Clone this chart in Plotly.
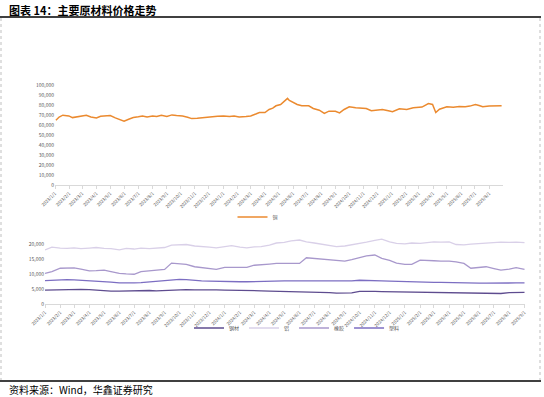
import plotly.graph_objects as go

W, H = 544, 397

# ---------------- data ----------------
copper_dates = [
    "2023-01-03", "2023-01-10", "2023-01-18", "2023-01-31", "2023-02-08", "2023-02-20",
    "2023-03-01", "2023-03-10", "2023-03-20", "2023-04-01", "2023-04-10", "2023-04-20",
    "2023-05-01", "2023-05-12", "2023-05-22", "2023-05-31", "2023-06-10", "2023-06-20",
    "2023-07-01", "2023-07-10", "2023-07-20", "2023-08-01", "2023-08-10", "2023-08-20",
    "2023-09-01", "2023-09-12", "2023-09-22", "2023-10-05", "2023-10-16", "2023-10-25",
    "2023-11-06", "2023-11-16", "2023-11-28", "2023-12-08", "2023-12-20", "2024-01-02",
    "2024-01-15", "2024-01-25", "2024-02-05", "2024-02-20", "2024-03-01", "2024-03-12",
    "2024-03-20", "2024-04-01", "2024-04-10", "2024-04-18", "2024-04-25", "2024-05-05",
    "2024-05-12", "2024-05-20", "2024-05-24", "2024-06-01", "2024-06-10", "2024-06-20",
    "2024-07-05", "2024-07-15", "2024-07-28", "2024-08-08", "2024-08-18", "2024-09-01",
    "2024-09-10", "2024-09-20", "2024-10-01", "2024-10-15", "2024-10-28", "2024-11-07",
    "2024-11-18", "2024-12-01", "2024-12-12", "2024-12-25", "2025-01-03", "2025-01-18",
    "2025-02-03", "2025-02-17", "2025-03-08", "2025-03-22", "2025-03-31", "2025-04-07",
    "2025-04-15", "2025-05-01", "2025-05-15", "2025-05-28", "2025-06-10", "2025-06-20",
    "2025-07-02", "2025-07-10", "2025-07-18", "2025-08-01", "2025-08-15", "2025-08-28",
]
copper = [
    64800, 68000, 69800, 69100, 67400, 68600,
    69100, 69800, 68100, 67100, 68800, 69300,
    69500, 67100, 65400, 63800, 65800, 67400,
    68200, 69100, 68100, 69100, 68500, 69800,
    68600, 70100, 69500, 69000, 67800, 66400,
    66800, 67400, 68200, 68500, 68800, 69100,
    68500, 68900, 68100, 68500, 69100, 71000,
    72500, 72500, 75500, 76800, 79200, 80500,
    83200, 86600, 84500, 82600, 80500, 79200,
    79200, 76500, 74800, 71500, 73800, 73800,
    72100, 75500, 78200, 77200, 76800, 76500,
    74200, 74600, 75500, 74300, 73200, 76200,
    75500, 77200, 77900, 81500, 80500, 72500,
    75800, 78200, 77800, 78500, 78300, 78900,
    80500, 79500, 78200, 78900, 79000, 79200,
]

# semi-monthly dates (1st and 15th) Jan 2023 .. Sep 2025
bottom_dates = []
for yr in (2023, 2024, 2025):
    for mo in range(1, 13):
        for d in (1, 15):
            if yr == 2025 and (mo > 9 or (mo == 9 and d == 15)):
                continue
            bottom_dates.append(f"{yr}-{mo:02d}-{d:02d}")

steel = [
    4600, 4700, 4700, 4800, 4900, 4900, 4800, 4600, 4400, 4300, 4300, 4400,
    4500, 4500, 4500, 4400, 4500, 4600, 4800, 4800, 4700, 4750, 4750, 4700,
    4650, 4650, 4600, 4600, 4500, 4400, 4300, 4250, 4300, 4300, 4250, 4200,
    4100, 4000, 3800, 3600, 3550, 3700, 4200, 4300, 4200, 4150, 4100, 4050,
    4000, 4000, 4050, 4050, 4000, 3950, 3900, 3800, 3700, 3650, 3550, 3450,
    3400, 3500, 3800, 3900, 3850,
]
aluminium = [
    18000, 18900, 18600, 18500, 18700, 18400, 18600, 18800, 18500, 18400, 18000, 18500,
    18300, 18600, 18400, 18500, 18800, 19600, 19700, 19800, 19300, 19000, 18900, 18700,
    19200, 19400, 18900, 18700, 19000, 19100, 19600, 20300, 20500, 21000, 21300, 20700,
    20300, 19900, 19400, 19100, 19300, 19700, 20000, 20600, 21200, 21600, 20700, 20200,
    20000, 20300, 20200, 20500, 20700, 20600, 20700, 19800, 19700, 19900, 20100, 20300,
    20400, 20600, 20500, 20600, 20400,
]
rubber = [
    10200, 10800, 11900, 11900, 12000, 11600, 11000, 11100, 11300, 10800, 10200, 10000,
    9900, 10800, 11000, 11300, 11500, 13600, 13400, 13200, 12400, 12100, 11900, 11500,
    12200, 12200, 12100, 12200, 12900, 13000, 13300, 13500, 13550, 13550, 13500, 15400,
    15200, 14900, 14650, 14650, 14300, 14800, 15500, 16000, 16300, 15200, 14500, 13600,
    13200, 13200, 14600, 14600, 14400, 14300, 14300, 14000, 13500, 11900, 12100, 12400,
    11800, 11300, 11600, 12100, 11500,
]
plastic = [
    7800, 7900, 8200, 8100, 8000, 7900, 7700, 7700, 7500, 7300, 7000, 6900,
    7000, 7100, 7300, 7400, 7600, 7900, 8200, 8100, 7800, 7700, 7600, 7500,
    7400, 7400, 7400, 7400, 7500, 7500, 7500, 7600, 7700, 7700, 7700, 7700,
    7700, 7700, 7600, 7600, 7600, 7700, 7900, 7900, 7800, 7700, 7600, 7500,
    7400, 7300, 7200, 7200, 7200, 7200, 7100, 7000, 7000, 7000, 6950, 6950,
    6900, 6900, 7000, 7000, 7000,
]

top_tick_dates = [f"{y}-{m:02d}-01" for y in (2023, 2024, 2025) for m in range(1, 13)
                  if not (y == 2025 and m > 8)]
top_tick_text = [f"{int(d[:4])}/{int(d[5:7])}/1" for d in top_tick_dates]
bot_tick_dates = [f"{y}-{m:02d}-01" for y in (2023, 2024, 2025) for m in range(1, 13)
                  if not (y == 2025 and m > 9)]
bot_tick_text = [f"{int(d[:4])}/{int(d[5:7])}/1" for d in bot_tick_dates]

top_yticks = [0, 10000, 20000, 30000, 40000, 50000, 60000, 70000, 80000, 90000, 100000]
bot_yticks = [0, 5000, 10000, 15000, 20000]

# ---------------- figure ----------------
FONT = "Noto Sans CJK SC"
TICK = dict(family=FONT, size=5, color="#595959")
XTICK = dict(family=FONT, size=4.5, color="#595959")

fig = go.Figure()
fig.add_trace(go.Scatter(x=copper_dates, y=copper, mode="lines", name="铜",
                         line=dict(color="#EB8A2F", width=1.5),
                         xaxis="x", yaxis="y", legend="legend"))
series = [("钢材", steel, "#5E4C8F"), ("铝", aluminium, "#D9D0E8"),
          ("橡胶", rubber, "#A898CC"), ("塑料", plastic, "#7C6EC2")]
for name, vals, col in series:
    fig.add_trace(go.Scatter(x=bottom_dates, y=vals, mode="lines", name=name,
                             line=dict(color=col, width=1.3),
                             xaxis="x2", yaxis="y2", legend="legend2"))

def px_x(p):
    return p / W

def px_y(p):
    return 1 - p / H

xcommon = dict(type="date", tickangle=-45, tickfont=XTICK, showgrid=False,
               zeroline=False, showline=True, linecolor="#D9D9D9", linewidth=1,
               ticks="outside", ticklen=3, tickcolor="#D9D9D9", automargin=False)
ycommon = dict(tickformat=",d", showline=False, tickfont=TICK, showgrid=False,
               zeroline=False, ticks="", automargin=False)

fig.update_layout(
    template="none",
    width=W, height=H,
    margin=dict(l=0, r=0, t=0, b=0, pad=0, autoexpand=False),
    paper_bgcolor="white", plot_bgcolor="white",
    font=dict(family=FONT),
    xaxis=dict(domain=[px_x(55), px_x(503)], anchor="y",
               range=["2023-01-01", "2025-08-31"],
               tickvals=top_tick_dates, ticktext=top_tick_text, **xcommon),
    yaxis=dict(domain=[px_y(185), px_y(84)], anchor="x", range=[0, 101000],
               tickvals=top_yticks, **ycommon),
    xaxis2=dict(domain=[px_x(45), px_x(525)], anchor="y2",
                range=["2023-01-01", "2025-09-02"],
                tickvals=bot_tick_dates, ticktext=bot_tick_text, **xcommon),
    yaxis2=dict(domain=[px_y(304), px_y(237)], anchor="x2", range=[0, 22300],
                tickvals=bot_yticks, **ycommon),
    legend=dict(orientation="h", x=px_x(258), xanchor="center", y=px_y(217),
                yanchor="middle", font=dict(family=FONT, size=5, color="#595959"),
                itemwidth=30, bgcolor="rgba(0,0,0,0)", tracegroupgap=0),
    legend2=dict(orientation="h", x=px_x(297), xanchor="center", y=px_y(328),
                 yanchor="middle", font=dict(family=FONT, size=5, color="#595959"),
                 itemwidth=30, bgcolor="rgba(0,0,0,0)", tracegroupgap=0),
    showlegend=True,
)

# title, rules, border, source
fig.add_annotation(x=px_x(7), y=px_y(10), xref="paper", yref="paper",
                   xanchor="left", yanchor="middle", showarrow=False,
                   text="<b>图表 14：主要原材料价格走势</b>",
                   font=dict(family=FONT, size=11, color="#000000"))
fig.add_annotation(x=px_x(7), y=px_y(389), xref="paper", yref="paper",
                   xanchor="left", yanchor="middle", showarrow=False,
                   text="资料来源：Wind，华鑫证券研究",
                   font=dict(family=FONT, size=10, color="#000000"))
fig.add_shape(type="line", xref="paper", yref="paper",
              x0=0, x1=px_x(541), y0=px_y(17), y1=px_y(17),
              line=dict(color="#000000", width=1.5))
fig.add_shape(type="line", xref="paper", yref="paper",
              x0=0, x1=px_x(541), y0=px_y(381), y1=px_y(381),
              line=dict(color="#000000", width=1.5))
for xp in (1, 540):
    fig.add_shape(type="line", xref="paper", yref="paper",
                  x0=px_x(xp), x1=px_x(xp), y0=px_y(18), y1=px_y(380),
                  line=dict(color="#BFBFBF", width=1, dash="dot"))

fig.write_html("out.html",
               config={"displayModeBar": False},
               post_script="document.body.style.margin='0';"
                           "document.body.style.overflow='hidden';")
